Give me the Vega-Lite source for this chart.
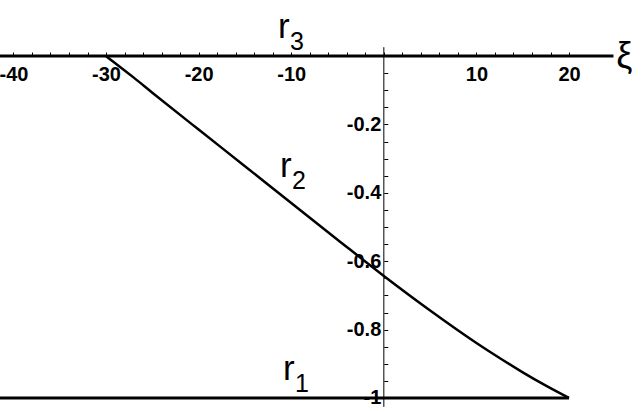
{
  "$schema": "https://vega.github.io/schema/vega-lite/v6.json",
  "width": 642,
  "height": 412,
  "autosize": "none",
  "padding": 0,
  "background": "white",
  "view": {"stroke": null},
  "config": {"axis": {"labelOverlap": false, "labelFlush": false, "labelBound": false}},
  "datasets": {
    "curve": [
      {"x": -30, "y": 0},
      {"x": -27, "y": -0.063},
      {"x": -25, "y": -0.107},
      {"x": -20, "y": -0.215},
      {"x": -15, "y": -0.322},
      {"x": -10, "y": -0.43},
      {"x": -5, "y": -0.537},
      {"x": 0, "y": -0.643},
      {"x": 5, "y": -0.744},
      {"x": 10, "y": -0.839},
      {"x": 12.5, "y": -0.883},
      {"x": 15, "y": -0.925},
      {"x": 17.5, "y": -0.964},
      {"x": 20, "y": -1.0}
    ],
    "lines": [
      {"series": "r1", "x": -41.5, "y": -1},
      {"series": "r1", "x": 20, "y": -1},
      {"series": "r3", "x": -41.5, "y": 0},
      {"series": "r3", "x": 24.8, "y": 0}
    ],
    "vaxis": [{"x": 0, "y": 0.026, "y2": -1.026}],
    "labels": [
      {"name": "r", "sub": "3", "x": -11.43, "y": 0.0526},
      {"name": "r", "sub": "2", "x": -11.2, "y": -0.354},
      {"name": "r", "sub": "1", "x": -10.9, "y": -0.947}
    ],
    "xi": [{"t": "ξ", "x": 25.1, "y": -0.035}]
  },
  "layer": [
    {
      "data": {"name": "curve"},
      "mark": {"type": "line", "color": "black", "strokeWidth": 2.5, "interpolate": "monotone"},
      "encoding": {
        "x": {
          "field": "x", "type": "quantitative",
          "scale": {"domain": [-41.45, 27.88], "nice": false, "zero": false},
          "axis": {
            "orient": "top", "offset": -56, "domain": false, "grid": false, "title": null,
            "values": [-40,-38,-36,-34,-32,-30,-28,-26,-24,-22,-20,-18,-16,-14,-12,-10,-8,-6,-4,-2,0,2,4,6,8,10,12,14,16,18,20],
            "tickCount": 200,
            "tickSize": 4, "tickWidth": 1, "tickColor": "black",
            "labelPadding": -12, "labelBaseline": "top",
            "labelFont": "Liberation Sans", "labelFontSize": 20, "labelFontWeight": "bold", "labelColor": "black",
            "labelOverlap": false, "labelFlush": false,
            "labelExpr": "datum.value != 0 && datum.value % 10 == 0 ? (datum.value < 0 ? '-' + (-datum.value) : '' + datum.value) : ''"
          }
        },
        "y": {
          "field": "y", "type": "quantitative",
          "scale": {"domain": [-1.041, 0.164], "nice": false, "zero": false},
          "axis": {
            "orient": "right", "offset": -258.2, "domain": false, "grid": false, "title": null,
            "values": [-1,-0.95,-0.9,-0.85,-0.8,-0.75,-0.7,-0.65,-0.6,-0.55,-0.5,-0.45,-0.4,-0.35,-0.3,-0.25,-0.2,-0.15,-0.1,-0.05],
            "tickCount": 200,
            "tickSize": 4, "tickWidth": 1, "tickColor": "black",
            "labelPadding": -7, "labelAlign": "right", "labelBaseline": "middle",
            "labelFont": "Liberation Sans", "labelFontSize": 20, "labelFontWeight": "bold", "labelColor": "black",
            "labelOverlap": false, "labelFlush": false,
            "labelExpr": "datum.value == -1 ? '-1' : (indexof([-0.8,-0.6,-0.4,-0.2], datum.value) >= 0 ? '-0.' + round(-datum.value*10) : '')"
          }
        }
      }
    },
    {
      "data": {"name": "lines"},
      "mark": {"type": "line", "color": "black", "strokeWidth": 3},
      "encoding": {
        "x": {"field": "x", "type": "quantitative"},
        "y": {"field": "y", "type": "quantitative"},
        "detail": {"field": "series"}
      }
    },
    {
      "data": {"name": "vaxis"},
      "mark": {"type": "rule", "color": "black", "strokeWidth": 1},
      "encoding": {
        "x": {"field": "x", "type": "quantitative"},
        "y": {"field": "y", "type": "quantitative"},
        "y2": {"field": "y2"}
      }
    },
    {
      "data": {"name": "labels"},
      "mark": {"type": "text", "font": "Liberation Sans", "fontSize": 35, "align": "left", "baseline": "alphabetic", "color": "black"},
      "encoding": {
        "x": {"field": "x", "type": "quantitative"},
        "y": {"field": "y", "type": "quantitative"},
        "text": {"field": "name"}
      }
    },
    {
      "data": {"name": "labels"},
      "mark": {"type": "text", "font": "Liberation Sans", "fontSize": 25, "align": "left", "baseline": "alphabetic", "dx": 12, "dy": 12, "color": "black"},
      "encoding": {
        "x": {"field": "x", "type": "quantitative"},
        "y": {"field": "y", "type": "quantitative"},
        "text": {"field": "sub"}
      }
    },
    {
      "data": {"name": "xi"},
      "mark": {"type": "text", "font": "Liberation Sans", "fontSize": 36, "align": "left", "baseline": "alphabetic", "color": "black"},
      "encoding": {
        "x": {"field": "x", "type": "quantitative"},
        "y": {"field": "y", "type": "quantitative"},
        "text": {"field": "t"}
      }
    }
  ]
}
